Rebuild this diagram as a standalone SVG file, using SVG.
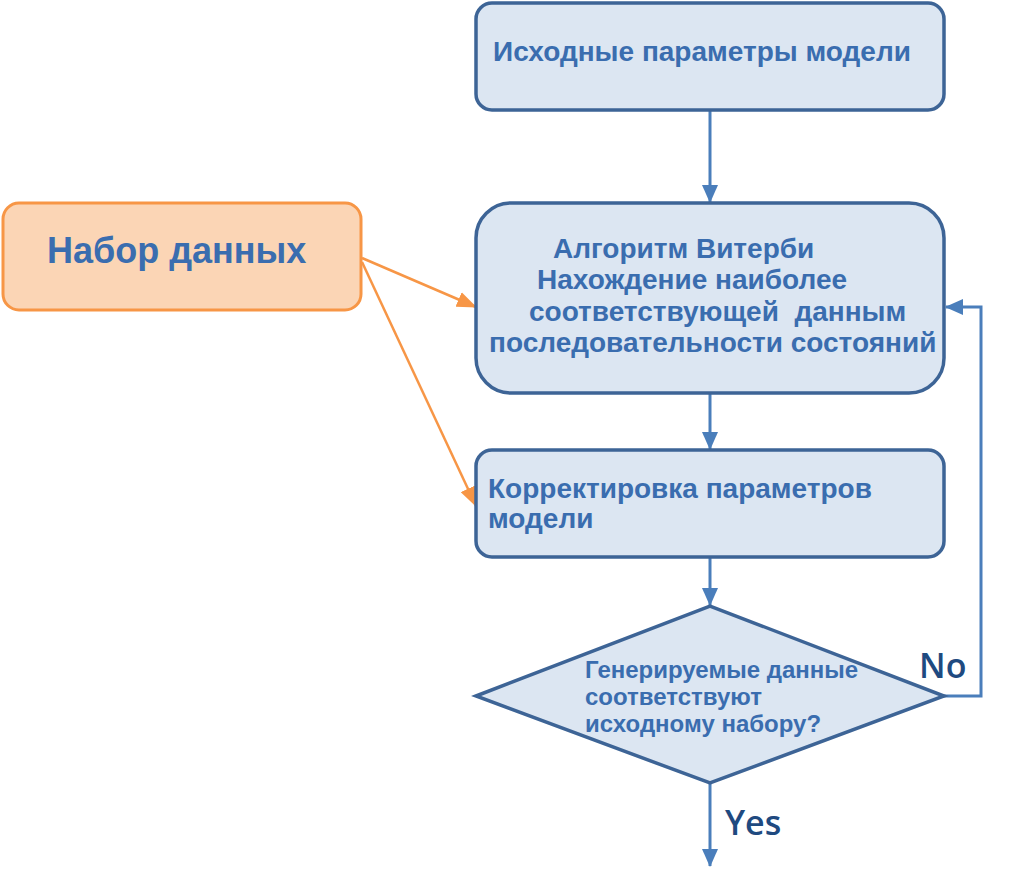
<svg xmlns="http://www.w3.org/2000/svg" width="1024" height="889" viewBox="0 0 1024 889">
<defs>
<style>
.box{fill:#DCE6F2;stroke:#3D6496;stroke-width:3.5}
.org{fill:#FBD5B5;stroke:#F79646;stroke-width:3}
.t{font-family:"Liberation Sans",Arial,sans-serif;font-weight:bold;fill:#3A6DAF}
.lbl{font-family:"Open Sans","Liberation Sans",sans-serif;fill:#1F4A80;font-weight:600}
.c{fill:none;stroke:#4A7EBB;stroke-width:3}
.co{fill:none;stroke:#F79646;stroke-width:2.5}
</style>
<marker id="ab" markerWidth="18" markerHeight="16" refX="17" refY="8" orient="auto" markerUnits="userSpaceOnUse" viewBox="0 0 18 16">
<path d="M0,0 L18,8 L0,16 z" fill="#4A7EBB"/>
</marker>
<marker id="ao" markerWidth="20" markerHeight="16" refX="19" refY="8" orient="auto" markerUnits="userSpaceOnUse" viewBox="0 0 20 16">
<path d="M0,0 L20,8 L0,16 z" fill="#F79646"/>
</marker>
</defs>
<rect width="1024" height="889" fill="#fff"/>
<g id="connectors">
<path class="c" d="M710,110 V202" marker-end="url(#ab)"/>
<path class="c" d="M710,393 V449" marker-end="url(#ab)"/>
<path class="c" d="M710,557 V605" marker-end="url(#ab)"/>
<path class="c" d="M710,783 V866" marker-end="url(#ab)"/>
<path class="c" d="M944,696 H981 V307 H946" marker-end="url(#ab)"/>
<path class="co" d="M362,258 L476,307" marker-end="url(#ao)"/>
<path class="co" d="M362,262 L476,506" marker-end="url(#ao)"/>
</g>
<g id="n1">
<rect class="box" x="476" y="3" width="468" height="107" rx="16"/>
<text class="t" x="493" y="61" font-size="28">Исходные параметры модели</text>
</g>
<g id="n2">
<rect class="org" x="3" y="203" width="358" height="107" rx="16"/>
<text class="t" x="47" y="263" font-size="36">Набор данных</text>
</g>
<g id="n3">
<rect class="box" x="476" y="203" width="468" height="190" rx="35"/>
<text class="t" font-size="28"><tspan x="553" y="258">Алгоритм Витерби</tspan><tspan x="537" y="289">Нахождение наиболее</tspan><tspan x="529" y="321" xml:space="preserve">соответствующей  данным</tspan><tspan x="489" y="352">последовательности состояний</tspan></text>
</g>
<g id="n4">
<rect class="box" x="476" y="450" width="468" height="107" rx="16"/>
<text class="t" font-size="28"><tspan x="488" y="498">Корректировка параметров</tspan><tspan x="488" y="528">модели</tspan></text>
</g>
<g id="n5">
<polygon class="box" points="476,696 710,606 944,696 710,783"/>
<text class="t" font-size="24"><tspan x="585" y="678">Генерируемые данные</tspan><tspan x="585" y="705">соответствуют</tspan><tspan x="585" y="732">исходному набору?</tspan></text>
</g>
<text class="lbl" x="919" y="678" font-size="34">No</text>
<text class="lbl" x="725" y="835" font-size="34">Yes</text>
</svg>
